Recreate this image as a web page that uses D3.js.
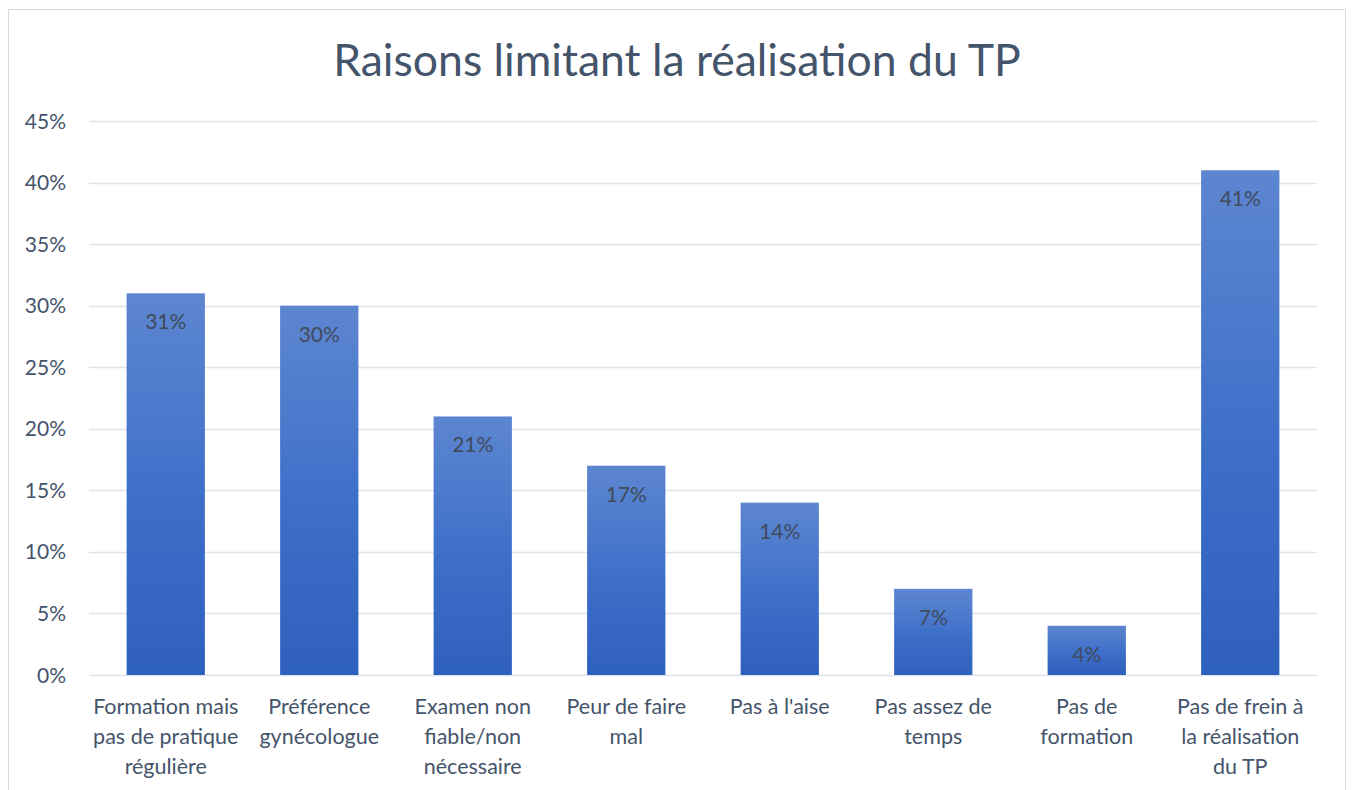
<!DOCTYPE html>
<html>
<head>
<meta charset="utf-8">
<script src="https://cdn.jsdelivr.net/npm/d3@7"></script>
<style>
  body { margin: 0; background: #fff; }
  svg { display: block; font-family: Lato, "Open Sans", sans-serif; }
</style>
</head>
<body>
<div id="chart"></div>
<script>
var categories = [
  ["Formation mais", "pas de pratique", "régulière"],
  ["Préférence", "gynécologue"],
  ["Examen non", "fiable/non", "nécessaire"],
  ["Peur de faire", "mal"],
  ["Pas à l'aise"],
  ["Pas assez de", "temps"],
  ["Pas de", "formation"],
  ["Pas de frein à", "la réalisation", "du TP"]
]
var values = [0.31, 0.30, 0.21, 0.17, 0.14, 0.07, 0.04, 0.41]
var ticks = [0, 0.05, 0.10, 0.15, 0.20, 0.25, 0.30, 0.35, 0.40, 0.45]

var width = 1354, height = 790
var plotLeft = 89, plotRight = 1317, plotTop = 121, plotBottom = 675
var textColor = "#44546a"

var svg = d3.select("#chart").append("svg")
  .attr("width", width)
  .attr("height", height)

// chart frame
svg.append("rect")
  .attr("x", 8.5).attr("y", 9.5)
  .attr("width", 1337).attr("height", 800)
  .attr("fill", "none")
  .attr("stroke", "#d9d9d9")

var grad = svg.append("defs").append("linearGradient")
  .attr("id", "barGrad")
  .attr("x1", 0).attr("y1", 0).attr("x2", 0).attr("y2", 1)
grad.append("stop").attr("offset", "0%").attr("stop-color", "#5d86d0")
grad.append("stop").attr("offset", "55%").attr("stop-color", "#3d6fc9")
grad.append("stop").attr("offset", "100%").attr("stop-color", "#2e60bd")

svg.append("text")
  .attr("x", 677).attr("y", 76)
  .attr("text-anchor", "middle")
  .attr("font-size", "44.5px")
  .attr("fill", textColor)
  .text("Raisons limitant la réalisation du TP")

var x = d3.scaleBand()
  .domain(d3.range(values.length))
  .range([plotLeft, plotRight])
  .paddingInner(0.49)
  .paddingOuter(0.245)

var y = d3.scaleLinear()
  .domain([0, 0.45])
  .range([plotBottom, plotTop])

// gridlines
svg.append("g").selectAll("line")
  .data(ticks)
  .enter()
    .append("line")
    .attr("x1", plotLeft).attr("x2", plotRight)
    .attr("y1", (d)=>(Math.round(y(d)) + 0.5))
    .attr("y2", (d)=>(Math.round(y(d)) + 0.5))
    .attr("stroke", "#dfe2e8")
    .attr("stroke-width", 1.5)

// y tick labels
svg.append("g").selectAll("text")
  .data(ticks)
  .enter()
    .append("text")
    .attr("x", 66)
    .attr("y", (d)=>(y(d) + 7.5))
    .attr("text-anchor", "end")
    .attr("font-size", "21px")
    .attr("fill", textColor)
    .text(d3.format(".0%"))

var bars = svg.append("g").selectAll(".bar")
  .data(values)
  .enter()
    .append("g")
    .attr("class", "bar")

bars.append("rect")
  .attr("x", (d,i)=>(x(i)))
  .attr("y", (d)=>(y(d)))
  .attr("width", x.bandwidth())
  .attr("height", (d)=>(plotBottom - y(d)))
  .attr("fill", "url(#barGrad)")

bars.append("text")
  .attr("x", (d,i)=>(x(i) + x.bandwidth() / 2))
  .attr("y", (d)=>(y(d) + 36))
  .attr("text-anchor", "middle")
  .attr("font-size", "21px")
  .attr("fill", "#404a5a")
  .text(d3.format(".0%"))

// category labels
var cats = svg.append("g").selectAll(".cat")
  .data(categories)
  .enter()
    .append("text")
    .attr("class", "cat")
    .attr("text-anchor", "middle")
    .attr("font-size", "21.5px")
    .attr("fill", textColor)

cats.selectAll("tspan")
  .data((d,i)=>(d.map((t)=>({t: t, i: i}))))
  .enter()
    .append("tspan")
    .attr("x", (d)=>(x(d.i) + x.bandwidth() / 2))
    .attr("y", (d,j)=>(714 + j * 30))
    .text((d)=>(d.t))
</script>
</body>
</html>
